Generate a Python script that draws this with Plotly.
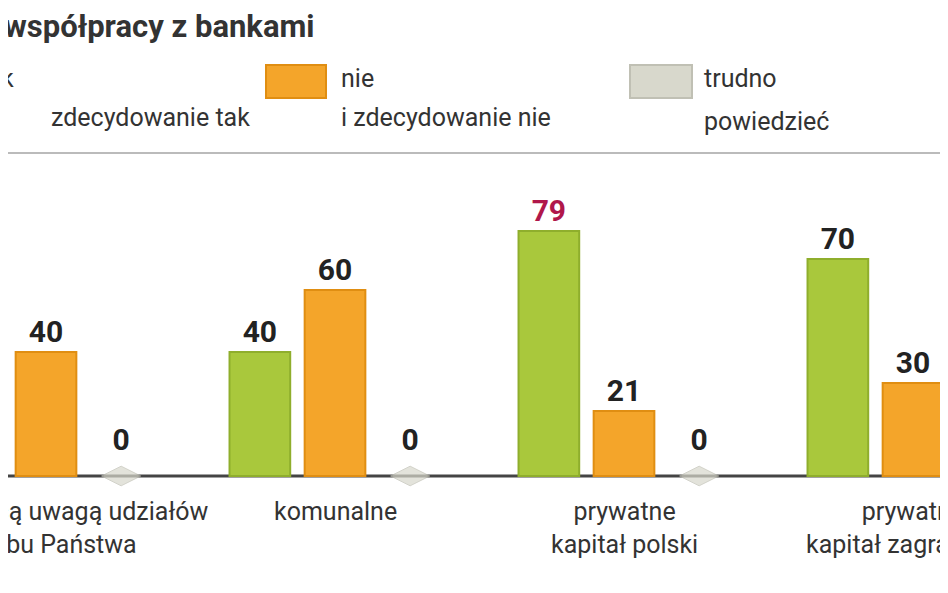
import plotly.graph_objects as go

categories = ["ze znaczącą uwagą udziałów<br>Skarbu Państwa", "komunalne", "prywatne<br>kapitał polski", "prywatne<br>kapitał zagraniczny"]
tak = [60, 40, 79, 70]
nie = [40, 60, 21, 30]
trudno = [0, 0, 0, 0]

W, H = 948, 593
xs = [i for i in range(len(categories))]
off = 0.26
fnt = "Roboto, Liberation Sans"
fig = go.Figure()
fig.add_bar(x=[x - off for x in xs], y=tak, width=0.21, marker=dict(color="#a9c83c", line=dict(color="#8fae2c", width=2)),
            text=["<b>%d</b>" % v for v in tak], textposition="outside",
            textfont=dict(size=30, color=["#222", "#222", "#b0174a", "#222"], family=fnt),
            cliponaxis=False)
fig.add_bar(x=xs, y=nie, width=0.21, marker=dict(color="#f4a52a", line=dict(color="#e08e12", width=2)),
            text=["<b>%d</b>" % v for v in nie], textposition="outside",
            textfont=dict(size=30, color="#222", family=fnt),
            cliponaxis=False)
fig.add_scatter(x=[x + off for x in xs], y=trudno, mode="markers+text",
                marker=dict(symbol="diamond-wide", size=[28]*4, color="#d8d8cc", line=dict(color="#c0c0b4", width=1)),
                text=["<b>%d</b>" % v for v in trudno], textposition="top center",
                textfont=dict(size=30, color="#222", family=fnt))

ann = []
for i, c in enumerate(categories):
    ann.append(dict(x=i, y=-6, text=c, showarrow=False, yanchor="top", xref="x", yref="y",
                    font=dict(size=25, color="#333", family=fnt), align="center"))
def P(px, py, t, size=25, anchor="left", bold=False):
    ann.append(dict(x=px / W, y=1 - py / H, xref="paper", yref="paper", text=("<b>%s</b>" % t) if bold else t,
                    showarrow=False, xanchor=anchor, yanchor="middle", font=dict(size=size, color="#333", family=fnt)))
P(-6, 18, "współpracy z bankami", 31, bold=True)
P(8, 70, "k", anchor="right")
P(244, 110, "zdecydowanie tak", anchor="right")
P(331, 70, "nie")
P(331, 110, "i zdecydowanie nie")
P(694, 70, "trudno")
P(694, 113, "powiedzieć")
fig.update_layout(annotations=ann)

shapes = [
    dict(type="rect", xref="paper", yref="paper", x0=258/W, x1=318/W, y0=1-90/H, y1=1-57/H, fillcolor="#f4a52a", line=dict(color="#e08e12", width=2)),
    dict(type="rect", xref="paper", yref="paper", x0=622/W, x1=684/W, y0=1-90/H, y1=1-57/H, fillcolor="#d8d8cc", line=dict(color="#c0c0b4", width=2)),
    dict(type="line", xref="paper", yref="paper", x0=0, x1=1, y0=1-145/H, y1=1-145/H, line=dict(color="#bbbbbb", width=2)),
    dict(type="line", xref="paper", yref="y", x0=0, x1=1, y0=0, y1=0, line=dict(color="#444", width=3), layer="below"),
]
fig.update_layout(shapes=shapes)

fig.update_layout(width=W, height=H, margin=dict(l=0, r=0, t=0, b=0), showlegend=False,
                  plot_bgcolor="white", paper_bgcolor="white", barmode="overlay",
                  xaxis=dict(range=[-38/289, (948-38)/289], visible=False, fixedrange=True),
                  yaxis=dict(range=[-125/3.1, 468/3.1], visible=False, fixedrange=True))
fig.write_html("out.html")
